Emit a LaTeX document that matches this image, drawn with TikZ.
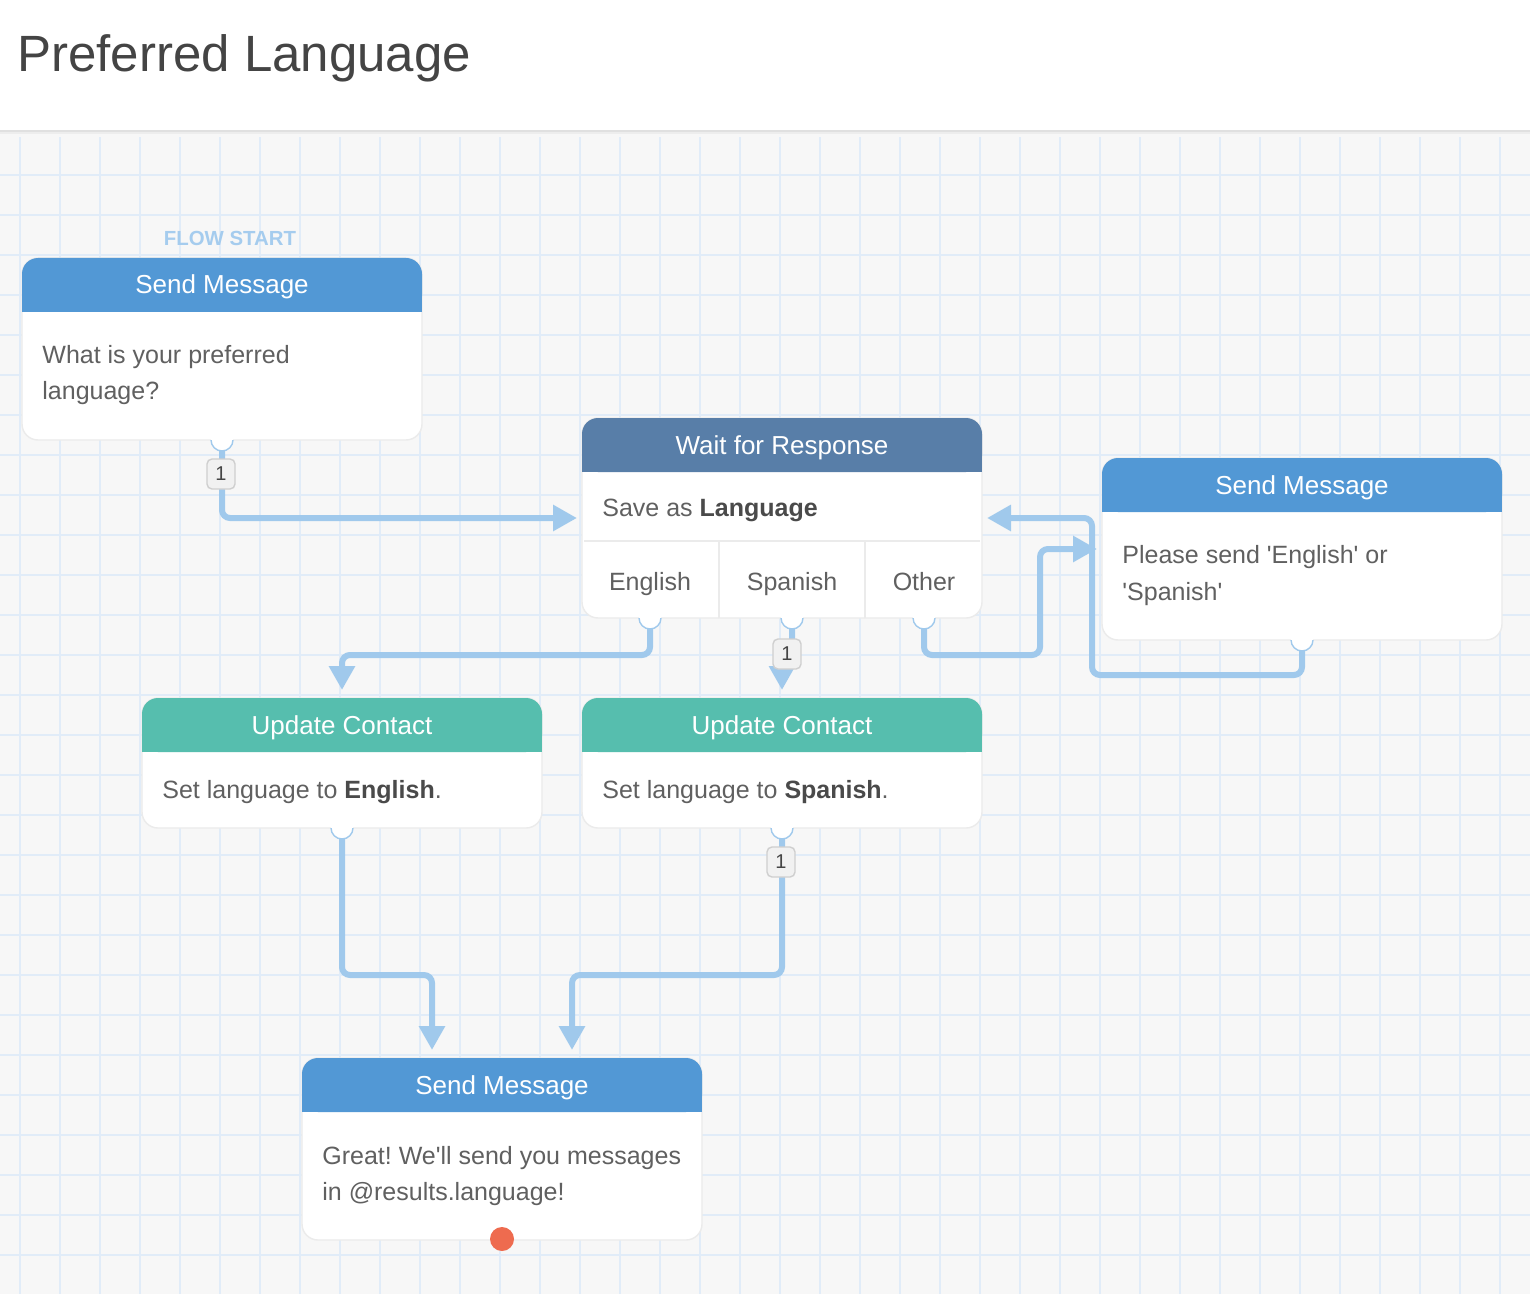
\documentclass[tikz,border=0pt]{standalone}
\usepackage{fontspec}
\setmainfont{Liberation Sans}[Ligatures=TeXOff]
\frenchspacing
\usetikzlibrary{arrows.meta,calc}
\definecolor{bg}{HTML}{F7F7F7}
\definecolor{gridc}{HTML}{E1ECF8}
\definecolor{sendblue}{HTML}{5298D5}
\definecolor{waitblue}{HTML}{587EA8}
\definecolor{teal}{HTML}{56BEAE}
\definecolor{connblue}{HTML}{A0C9EC}
\definecolor{flowblue}{HTML}{A5CCEE}
\definecolor{bodygray}{HTML}{606060}
\definecolor{boldgray}{HTML}{4A4A4A}
\definecolor{titlegray}{HTML}{444444}
\definecolor{cardline}{HTML}{EBEBEB}
\definecolor{lblfill}{HTML}{F1F1F1}
\definecolor{lblline}{HTML}{CFCFCF}
\definecolor{lbltext}{HTML}{454545}
\definecolor{reddot}{HTML}{EE6B4F}
\tikzset{
  card/.style={draw=cardline, fill=white, rounded corners=8pt, minimum width=200pt, inner sep=0pt, outer sep=0pt, line width=0.7pt},
  hdrtext/.style={text=white, font=\fontsize{13}{15}\selectfont, inner sep=0pt, anchor=base},
  bodytext/.style={text=bodygray, font=\fontsize{12.5}{18}\selectfont, align=left, inner sep=0pt, anchor=base west},
  casetext/.style={text=bodygray, font=\fontsize{12.5}{15}\selectfont, inner sep=0pt, anchor=base},
  conn/.style={draw=connblue, line width=3pt, rounded corners=4pt, -{Triangle[length=12pt,width=12.5pt]}},
  exitdot/.style={circle, fill=white, minimum size=11pt, inner sep=0pt},
  countlbl/.style={draw=lblline, fill=lblfill, rounded corners=2.5pt, minimum width=14pt, minimum height=15pt, inner sep=0pt, font=\fontsize{10}{12}\selectfont, text=lbltext, line width=0.7pt},
  gridline/.style={draw=gridc, line width=0.7pt},
  sepline/.style={draw=cardline, line width=1pt},
}
\newcommand\flowcard[5]{%
  \node[card, minimum height=#3] (#1) at #2 {};
  \fill[#4, rounded corners=8pt] (#1.north west) rectangle ([yshift=-27pt]#1.north east);
  \fill[#4] ([yshift=-12pt]#1.north west) rectangle ([yshift=-27pt]#1.north east);
  \node[hdrtext] (#1-h) at ([yshift=-18pt]#1.north) {#5};
}
\newcommand\exitmark[1]{%
  \node[exitdot] (#1d) at (#1) {};
  \begin{scope}
    \clip ([xshift=-8pt]#1) rectangle ([xshift=8pt,yshift=-8pt]#1);
    \draw[connblue, line width=0.7pt] (#1) circle[radius=5.5pt];
  \end{scope}
}
\begin{document}
\begin{tikzpicture}[x=0.5pt,y=-0.5pt]
\useasboundingbox (0,0) rectangle (1530,1294);
% background and grid
\fill[bg] (0,0) rectangle (1530,1294);
\foreach \x in {20,60,...,1500} \draw[gridline] (\x,130) -- (\x,1294);
\foreach \y in {135,175,...,1294} \draw[gridline] (0,\y) -- (1530,\y);
% top bar
\fill[white] (0,0) rectangle (1530,130);
\fill[black!12] (0,130) rectangle (1530,132);
\fill[black!7] (0,132) rectangle (1530,134);
\fill[black!3] (0,134) rectangle (1530,137);
\node[anchor=base west, font=\fontsize{25.5}{30}\selectfont, text=titlegray, inner sep=0pt] (title) at (17,72) {Preferred Language};

% cards
\node[font=\bfseries\fontsize{10.2}{12}\selectfont, text=flowblue, inner sep=0pt] (flowstart) at (230,238) {FLOW START};
\flowcard{start}{(222,349)}{91pt}{sendblue}{Send Message}
\flowcard{wait}{(782,518)}{100pt}{waitblue}{Wait for Response}
\flowcard{retry}{(1302,549)}{91pt}{sendblue}{Send Message}
\flowcard{upen}{(342,763)}{65pt}{teal}{Update Contact}
\flowcard{upsp}{(782,763)}{65pt}{teal}{Update Contact}
\flowcard{done}{(502,1149)}{91pt}{sendblue}{Send Message}

% body texts (base anchor = last line)
\node[bodytext] (start-b) at (42,400) {What is your preferred\\language?};
\node[bodytext] (wait-b) at (602,516) {Save as \textcolor{boldgray}{\bfseries Language}};
\node[bodytext] (retry-b) at (1122,600) {Please send 'English' or\\[0.5pt]'Spanish'};
\node[bodytext] (upen-b) at (162,798) {Set language to \textcolor{boldgray}{\bfseries English}.};
\node[bodytext] (upsp-b) at (602,798) {Set language to \textcolor{boldgray}{\bfseries Spanish}.};
\node[bodytext] (done-b) at (322,1200) {Great! We'll send you messages\\in @results.language!};

% wait cases
\draw[sepline] ($(wait.north west)+(2,123)$) -- ($(wait.north east)+(-2,123)$);
\draw[sepline] ($(wait.south west)+(137,0)$) -- ($(wait.north west)+(137,123)$);
\draw[sepline] ($(wait.south west)+(283,0)$) -- ($(wait.north west)+(283,123)$);
\node[casetext] (c-en) at (650,590) {English};
\node[casetext] (c-sp) at (792,590) {Spanish};
\node[casetext] (c-ot) at (924,590) {Other};

% exit points
\coordinate (start-o) at (start.south);
\coordinate (en-o) at ($(wait.south west)+(68,0)$);
\coordinate (sp-o) at ($(wait.south west)+(210,0)$);
\coordinate (ot-o) at ($(wait.south west)+(342,0)$);
\coordinate (retry-o) at (retry.south);
\coordinate (upen-o) at (upen.south);
\coordinate (upsp-o) at (upsp.south);

% connectors
\draw[conn] (start-o) |- ([xshift=-2.5pt]wait.west);
\draw[conn] (en-o) -- ++(0,37) -| ([yshift=4pt]upen.north);
\draw[conn] (sp-o) -- ++(0,32) -- ++(-10,10) -- ([yshift=4pt]upsp.north);
\draw[conn] (ot-o) -- ++(0,37) -| ([xshift=-31pt]retry.west) -- ([xshift=-2.5pt]retry.west);
\draw[conn] (retry-o) -- ++(0,35) -| ([xshift=55pt]wait.east) -- ([xshift=2.5pt]wait.east);
\draw[conn] (upen-o) -- ++(0,147) -| ([xshift=-35pt,yshift=4pt]done.north);
\draw[conn] (upsp-o) -- ++(0,147) -| ([xshift=35pt,yshift=4pt]done.north);

% exit marks
\exitmark{start-o}
\exitmark{en-o}
\exitmark{sp-o}
\exitmark{ot-o}
\exitmark{retry-o}
\exitmark{upen-o}
\exitmark{upsp-o}
\node[circle, fill=reddot, minimum size=12pt, inner sep=0pt] (endpt) at ([yshift=0.5pt]done.south) {};

% count labels
\node[countlbl] (l1) at ($(start-o)+(-1,34)$) {1};
\node[countlbl] (l2) at ($(sp-o)+(-5,36)$) {1};
\node[countlbl] (l3) at ($(upsp-o)+(-1,34)$) {1};
\end{tikzpicture}
\end{document}
